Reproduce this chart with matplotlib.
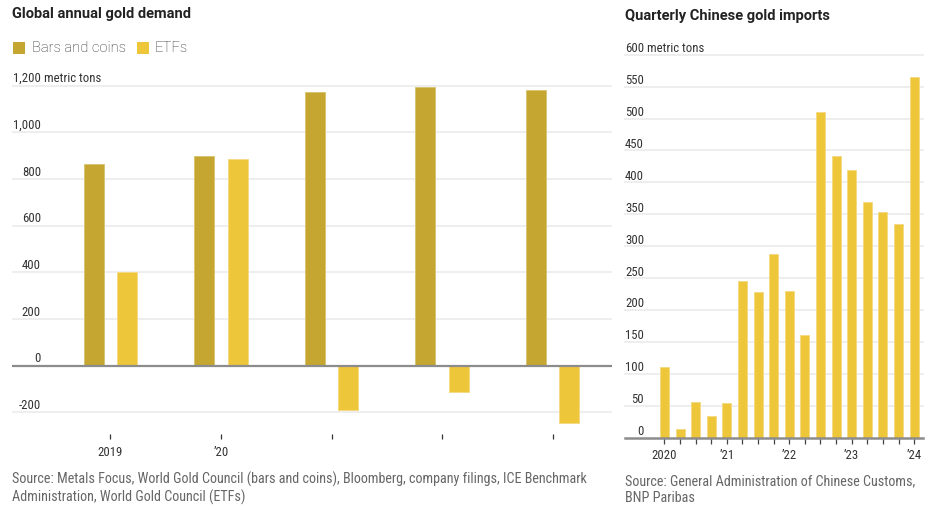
import matplotlib
matplotlib.use("Agg")
import matplotlib.pyplot as plt
import numpy as np

# ---------------- data ----------------
years = ["2019", "2020", "2021", "2022", "2023"]
year_labels = ["2019", "\u201920", "", "", ""]
bars_coins = [865, 899, 1173, 1196, 1182]
etfs = [402, 886, -189, -111, -244]

quarters = ["2020Q1", "2020Q2", "2020Q3", "2020Q4",
            "2021Q1", "2021Q2", "2021Q3", "2021Q4",
            "2022Q1", "2022Q2", "2022Q3", "2022Q4",
            "2023Q1", "2023Q2", "2023Q3", "2023Q4",
            "2024Q1"]
imports = [110, 14, 55, 33, 54, 246, 228, 287, 229, 160,
           510, 442, 420, 369, 353, 334, 565]
quarter_tick_labels = {0: "2020", 4: "\u201921", 8: "\u201922", 12: "\u201923", 16: "\u201924"}

left_yticks = [-200, 0, 200, 400, 600, 800, 1000, 1200]
right_yticks = list(range(0, 601, 50))

# ---------------- style ----------------
W, H = 933, 513
C_BC = "#C4A630"
C_BC_EDGE = "#D8C575"
C_ETF = "#EEC63A"
C_ETF_EDGE = "#F5DA85"
GRID = "#EDEDED"
ZERO = "#8C8C8C"
TXT = "#333333"
SRC = "#666666"
NARROW = ["Roboto Condensed", "Roboto", "DejaVu Sans"]
TITLEF = ["Roboto", "DejaVu Sans"]

fig = plt.figure(figsize=(W / 100, H / 100), dpi=100)
fig.patch.set_facecolor("white")


def fx(x):
    return x / W


def fy(y):
    return 1 - y / H


def rect(x0, x1, ytop, ybot):
    return [fx(x0), fy(ybot), fx(x1) - fx(x0), (ybot - ytop) / H]


# ---------------- left chart ----------------
L_ZERO, L_PPU = 365.7, 0.2333
l_ylim = (-293, 1215)
l_top = L_ZERO - l_ylim[1] * L_PPU
l_bot = L_ZERO - l_ylim[0] * L_PPU
axL = fig.add_axes(rect(12, 612, l_top, l_bot))
axL.set_ylim(*l_ylim)
axL.set_xlim(-0.891, 4.538)
for s in axL.spines.values():
    s.set_visible(False)
axL.set_yticks([])
x = np.arange(len(years))
bw = 0.181
off = 0.15
axL.bar(x - off, bars_coins, bw, color=C_BC, edgecolor=C_BC_EDGE, linewidth=0.7, zorder=3)
axL.bar(x + off, etfs, bw, color=C_ETF, edgecolor=C_ETF_EDGE, linewidth=0.7, zorder=3)
ytr = axL.get_yaxis_transform()
for v in left_yticks:
    if v == 0:
        axL.axhline(0, color=ZERO, lw=1.6, zorder=4)
    else:
        axL.axhline(v, color=GRID, lw=1.3, zorder=1)
    axL.text((41 - 12) / 600, v + 3.5 / L_PPU, f"{v:,}", transform=ytr,
             ha="right", va="baseline", fontsize=9.2, color=TXT, family=NARROW)
    if v == 1200:
        axL.text((44 - 12) / 600, v + 3.5 / L_PPU, "metric tons", transform=ytr,
                 ha="left", va="baseline", fontsize=9.2, color=TXT, family=NARROW)
axL.set_xticks(x)
axL.set_xticklabels(year_labels, family=NARROW, fontsize=9.2, color=TXT)
axL.tick_params(axis="x", length=3.5, width=0.9, color="#333333", pad=5)

# ---------------- right chart ----------------
R_ZERO, R_PPU = 437.5, 0.638
r_ylim = (0, 605)
r_top = R_ZERO - r_ylim[1] * R_PPU
axR = fig.add_axes(rect(625, 923, r_top, R_ZERO))
axR.set_ylim(*r_ylim)
axR.set_xlim(-2.53, 16.57)
for s in axR.spines.values():
    s.set_visible(False)
axR.set_yticks([])
xq = np.arange(len(quarters))
axR.bar(xq, imports, 0.58, color=C_ETF, edgecolor=C_ETF_EDGE, linewidth=0.7, zorder=3)
ytrR = axR.get_yaxis_transform()
for v in right_yticks:
    if v == 0:
        axR.axhline(0, color=ZERO, lw=1.8, zorder=4, clip_on=False)
    else:
        axR.axhline(v, color=GRID, lw=1.3, zorder=1, clip_on=False)
    axR.text((644 - 625) / 298, v + 2.5 / R_PPU, str(v), transform=ytrR,
             ha="right", va="baseline", fontsize=9.2, color=TXT, family=NARROW, clip_on=False)
    if v == 600:
        axR.text((647 - 625) / 298, v + 2.5 / R_PPU, "metric tons", transform=ytrR,
                 ha="left", va="baseline", fontsize=9.2, color=TXT, family=NARROW, clip_on=False)
axR.set_xticks(xq)
axR.set_xticklabels([quarter_tick_labels.get(i, "") for i in xq], family=NARROW, fontsize=9.2, color=TXT)
axR.tick_params(axis="x", length=4, width=0.9, color="#444444", pad=4)

# ---------------- titles, legend, sources ----------------
fig.text(fx(12), fy(14), "Global annual gold demand", ha="left", va="center",
         fontsize=10.5, fontweight="bold", color="#222222", family=TITLEF)
fig.text(fx(625), fy(16), "Quarterly Chinese gold imports", ha="left", va="center",
         fontsize=10.5, fontweight="bold", color="#222222", family=TITLEF)

# legend squares
for (x0, col, lab, tx) in [(13, C_BC, "Bars and coins", 32), (137, C_ETF, "ETFs", 155)]:
    fig.patches.append(plt.Rectangle((fx(x0), fy(54)), 12 / W, 12 / H, transform=fig.transFigure,
                                     facecolor=col, edgecolor="none"))
    fig.text(fx(tx), fy(48), lab, ha="left", va="center", fontsize=10.6, color="#2a2a2a",
             family=TITLEF, fontweight="light")

fig.text(fx(12), fy(479),
         "Source: Metals Focus, World Gold Council (bars and coins), Bloomberg, company filings, ICE Benchmark",
         ha="left", va="center", fontsize=10.2, color=SRC, family=NARROW)
fig.text(fx(12), fy(497), "Administration, World Gold Council (ETFs)",
         ha="left", va="center", fontsize=10.2, color=SRC, family=NARROW)
fig.text(fx(625), fy(481), "Source: General Administration of Chinese Customs,",
         ha="left", va="center", fontsize=10.2, color=SRC, family=NARROW)
fig.text(fx(625), fy(498), "BNP Paribas",
         ha="left", va="center", fontsize=10.2, color=SRC, family=NARROW)

fig.savefig("out.png", dpi=100, facecolor="white")
